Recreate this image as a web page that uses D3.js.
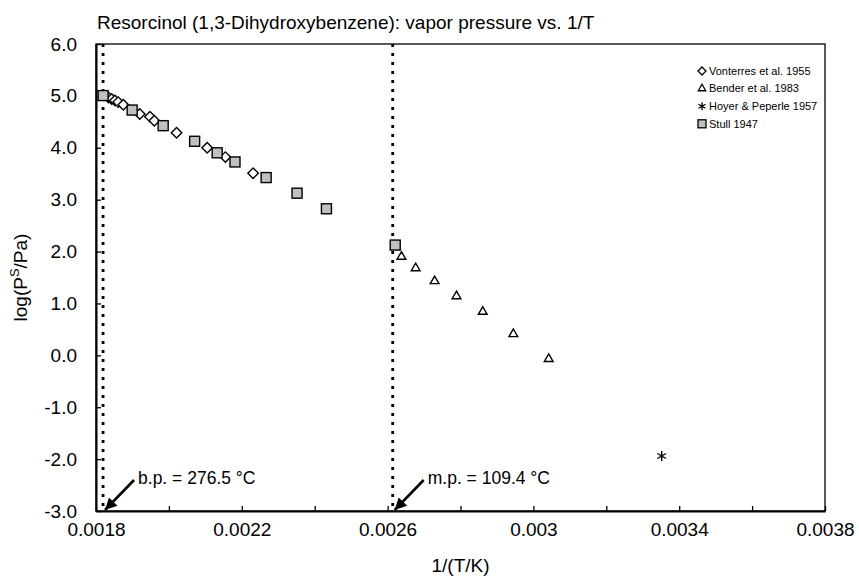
<!DOCTYPE html>
<html><head><meta charset="utf-8">
<script src="https://cdn.jsdelivr.net/npm/d3@7/dist/d3.min.js"></script>
<style>body{margin:0;background:#fff;} text{font-family:"Liberation Sans",Arial,sans-serif;fill:#000;}</style>
</head><body>
<svg id="c" width="859" height="586"></svg>
<script>
// Data
const vonterres = [[0.001834,4.97],[0.001843,4.94],[0.001852,4.91],[0.001861,4.88],[0.001875,4.83],[0.001920,4.65],[0.001948,4.60],[0.001960,4.52],[0.002021,4.29],[0.002105,4.00],[0.002155,3.82],[0.002231,3.51]];
const bender = [[0.002638,1.90],[0.002677,1.68],[0.002729,1.43],[0.002789,1.14],[0.002861,0.84],[0.002945,0.41],[0.003042,-0.07]];
const hoyer = [[0.003352,-1.94]];
const stull = [[0.0018194,5.006],[0.0018992,4.727],[0.0019843,4.426],[0.0020706,4.125],[0.0021324,3.903],[0.0021813,3.727],[0.0022668,3.426],[0.0023516,3.125],[0.0024322,2.824],[0.0026209,2.125]];
const xTicks = [0.0018,0.002,0.0022,0.0024,0.0026,0.0028,0.003,0.0032,0.0034,0.0036,0.0038];
const xTickLabels = ["0.0018","","0.0022","","0.0026","","0.003","","0.0034","","0.0038"];
const yTicks = [6,5,4,3,2,1,0,-1,-2,-3];
const yTickLabels = ["6.0","5.0","4.0","3.0","2.0","1.0","0.0","-1.0","-2.0","-3.0"];
const legendLabels = ["Vonterres et al. 1955","Bender et al. 1983","Hoyer & Peperle 1957","Stull 1947"];
const bp = 1/(276.5+273.15), mp = 1/(109.4+273.15);
const bpLabel = "b.p. = 276.5 °C", mpLabel = "m.p. = 109.4 °C";

const svg = d3.select("#c");
const L=96,R=825,T=44,B=511;
const x = d3.scaleLinear().domain([0.0018,0.0038]).range([L,R]);
const y = d3.scaleLinear().domain([-3,6]).range([B,T]);

// frame
svg.append("rect").attr("x",L).attr("y",T).attr("width",R-L).attr("height",B-T).attr("fill","none").attr("stroke","#000").attr("stroke-width",1.3);

// axes
const xAxis = d3.axisBottom(x).tickValues(xTicks).tickSizeInner(-5).tickSizeOuter(0).tickPadding(12).tickFormat((d,i)=>xTickLabels[i]);
const gx = svg.append("g").attr("transform",`translate(0,${B})`).call(xAxis);
gx.select(".domain").attr("stroke","#000").attr("stroke-width",2);
gx.selectAll("text").attr("font-size",19).attr("font-family","Liberation Sans, Arial").attr("fill","#000");
gx.selectAll("line").attr("stroke","#000").attr("stroke-width",1.3);

const yAxis = d3.axisLeft(y).tickValues(yTicks).tickSizeInner(-5).tickSizeOuter(0).tickPadding(19).tickFormat((d,i)=>yTickLabels[i]);
const gy = svg.append("g").attr("transform",`translate(${L},0)`).call(yAxis);
gy.select(".domain").attr("stroke","#000").attr("stroke-width",2);
gy.selectAll("text").attr("font-size",19).attr("font-family","Liberation Sans, Arial").attr("fill","#000");
gy.selectAll("line").attr("stroke","#000").attr("stroke-width",1.3);

// dotted lines
[bp,mp].forEach(v=>{
  svg.append("line").attr("x1",x(v)).attr("x2",x(v)).attr("y1",y(6)).attr("y2",y(-3))
   .attr("stroke","#000").attr("stroke-width",2.8).attr("stroke-dasharray","3,6");
});

// arrows
const defs = svg.append("defs");
defs.append("marker").attr("id","ah").attr("viewBox","0 0 10 10").attr("refX",10).attr("refY",5)
  .attr("markerWidth",5).attr("markerHeight",4.5).attr("markerUnits","strokeWidth").attr("orient","auto")
  .append("path").attr("d","M0,0 L10,5 L0,10 z").attr("fill","#000");
[[bp,bpLabel],[mp,mpLabel]].forEach(([v,lab])=>{
  const tx=x(v)+1, ty=y(-3);
  svg.append("line").attr("x1",tx+30).attr("y1",ty-31).attr("x2",tx+1).attr("y2",ty-1)
    .attr("stroke","#000").attr("stroke-width",2.6).attr("marker-end","url(#ah)");
  svg.append("text").attr("x",tx+34).attr("y",ty-27).attr("font-size",17.5).text(lab);
});

// markers
const g = svg.append("g");
g.selectAll(".v").data(vonterres).enter().append("path")
  .attr("d",d3.symbol().type(d3.symbolDiamond2).size(70)())
  .attr("transform",d=>`translate(${x(d[0])},${y(d[1])})`)
  .attr("fill","#fff").attr("stroke","#000").attr("stroke-width",1.4);
g.selectAll(".b").data(bender).enter().append("path")
  .attr("d",d3.symbol().type(d3.symbolTriangle2).size(55)())
  .attr("transform",d=>`translate(${x(d[0])},${y(d[1])})`)
  .attr("fill","#fff").attr("stroke","#000").attr("stroke-width",1.4);
g.selectAll(".h").data(hoyer).enter().append("path")
  .attr("d",d3.symbol().type(d3.symbolAsterisk).size(70)())
  .attr("transform",d=>`translate(${x(d[0])},${y(d[1])})`)
  .attr("fill","none").attr("stroke","#000").attr("stroke-width",1.4);
g.selectAll(".s").data(stull).enter().append("rect")
  .attr("x",d=>x(d[0])-5).attr("y",d=>y(d[1])-5).attr("width",10).attr("height",10)
  .attr("fill","#c0c0c0").attr("stroke","#000").attr("stroke-width",1.4);

// legend
const lg = svg.append("g");
const lx=702, ly0=71, ldy=17.6;
legendLabels.forEach((t,i)=>{
  const yy=ly0+i*ldy;
  let m;
  if(i===0) m=lg.append("path").attr("d",d3.symbol().type(d3.symbolDiamond2).size(40)()).attr("transform",`translate(${lx},${yy})`).attr("fill","#fff");
  if(i===1) m=lg.append("path").attr("d",d3.symbol().type(d3.symbolTriangle2).size(40)()).attr("transform",`translate(${lx},${yy})`).attr("fill","#fff");
  if(i===2) m=lg.append("path").attr("d",d3.symbol().type(d3.symbolAsterisk).size(45)()).attr("transform",`translate(${lx},${yy})`).attr("fill","none");
  if(i===3) m=lg.append("rect").attr("x",lx-4).attr("y",yy-4).attr("width",8).attr("height",8).attr("fill","#c0c0c0");
  m.attr("stroke","#000").attr("stroke-width",1.3);
  lg.append("text").attr("x",lx+7).attr("y",yy).attr("dy","0.35em").attr("font-size",11).text(t);
});

// titles
svg.append("text").attr("x",97).attr("y",29).attr("font-size",19).text("Resorcinol (1,3-Dihydroxybenzene): vapor pressure vs. 1/T");
svg.append("text").attr("x",(L+R)/2).attr("y",572).attr("text-anchor","middle").attr("font-size",19).text("1/(T/K)");
const yl = svg.append("text").attr("transform",`translate(27,${(T+B)/2}) rotate(-90)`).attr("text-anchor","middle").attr("font-size",19);
yl.append("tspan").text("log(P");
yl.append("tspan").attr("font-size",13).attr("dy",-8).text("S");
yl.append("tspan").attr("dy",8).text("/Pa)");
</script>
</body></html>
